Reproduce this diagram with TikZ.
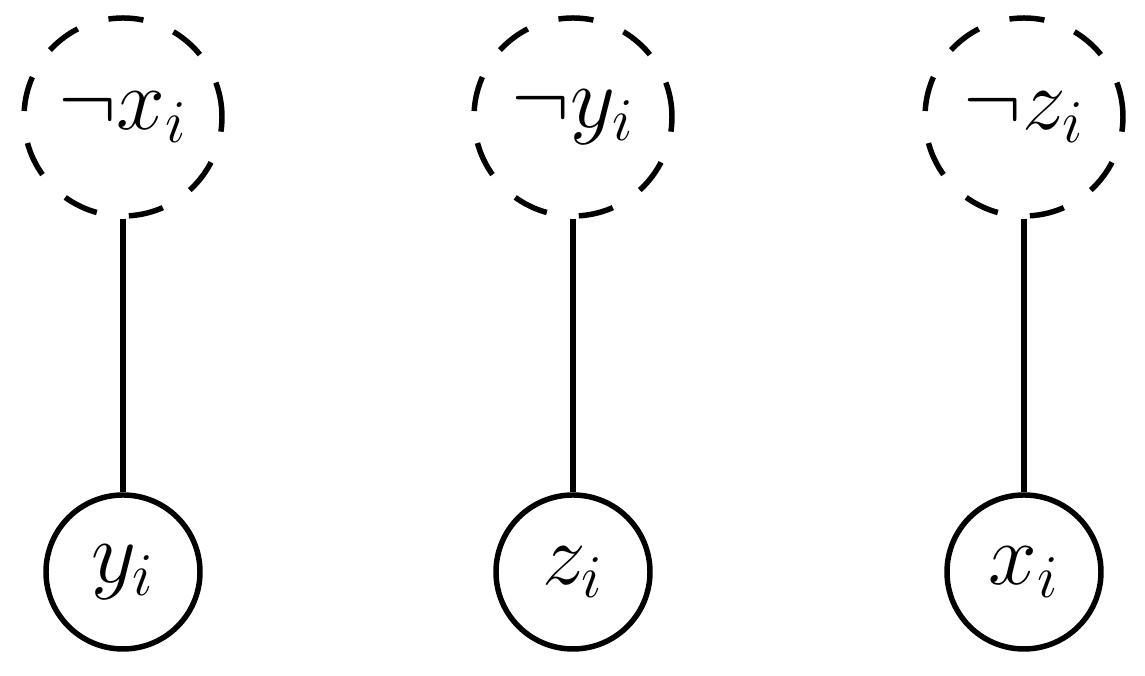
\documentclass[tikz,border=0pt]{standalone}
\usepackage{tikz}
\usetikzlibrary{positioning}

\begin{document}
\begin{tikzpicture} [{neglit/.style={circle,draw=black,line width=1.56pt,dash pattern=on 10pt off 9.2pt,minimum size=19.8mm,inner sep=0mm,font=\fontsize{24}{28}\selectfont}},{lit/.style={circle,draw=black,line width=1.56pt,minimum size=15.4mm,inner sep=0mm,font=\fontsize{24}{28}\selectfont}},{linest/.style={color=black,line width=1.56pt}}]
		\useasboundingbox (0,0) rectangle (11.45,6.76);
		%%negated literals
		\node at (1.23,5.59) [neglit] (1) {$\neg x_i$};
		\node at (5.73,5.59) [neglit] (2) {$\neg y_i$};
		\node at (10.24,5.59) [neglit] (3) {$\neg z_i$};
		%%literals
		\node at (1.23,1.04) [lit] (4) {$y_i$};
		\node at (5.73,1.04) [lit] (5) {$z_i$};
		\node at (10.24,1.04) [lit] (6) {$x_i$};
		%%edges
		\draw [linest] (1) -- (4);
		\draw [linest] (2) -- (5);
		\draw [linest] (3) -- (6);
	\end{tikzpicture}
\end{document}
